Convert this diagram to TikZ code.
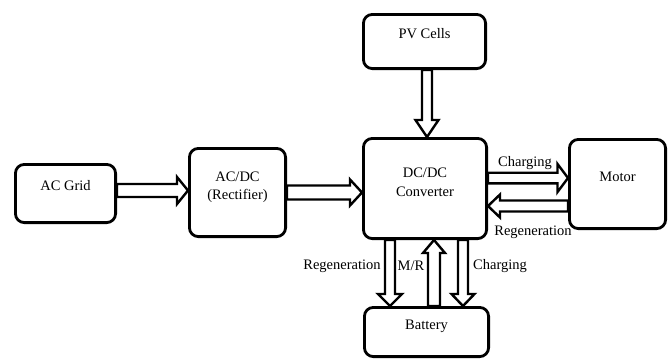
\documentclass[tikz,border=0pt]{standalone}
\usepackage{fontspec}
\setmainfont{Liberation Serif}
\usetikzlibrary{calc}
\tikzset{
  box/.style={draw, line width=2.8pt, rounded corners=9pt, inner sep=0pt},
  txt/.style={font=\fontsize{14.5}{18.5}\selectfont, align=center, inner sep=1pt},
  blkarrow/.style={draw, fill=white, line width=2.4pt, line join=miter},
}
\newcommand{\blk}[5]{%
  \coordinate (bh) at ($(#2)!#5!(#1)$);
  \draw[blkarrow] ($(#1)!#3!90:(#2)$) -- ($(bh)!#3!90:(#2)$) -- ($(bh)!#4!90:(#2)$) -- (#2)
    -- ($(bh)!#4!-90:(#2)$) -- ($(bh)!#3!-90:(#2)$) -- ($(#1)!#3!-90:(#2)$) -- cycle;
}
\begin{document}
\begin{tikzpicture}[x=1pt,y=-1pt]
\fill[white] (0,0) rectangle (672,360);
\useasboundingbox (0,0) rectangle (672,360);

\node[box, minimum width=100.2pt, minimum height=58.2pt,
  label={[txt,name=acgridt,yshift=8pt]center:AC Grid}] (acgrid) at (65.5,193.5) {};
\node[box, minimum width=96.2pt, minimum height=88.2pt,
  label={[txt,name=acdct,yshift=5.5pt]center:AC/DC\\(Rectifier)}] (acdc) at (237.5,192.5) {};
\node[box, minimum width=123.2pt, minimum height=100.2pt,
  label={[txt,name=dcdct,yshift=6pt]center:DC/DC\\Converter}] (dcdc) at (425,188.5) {};
\node[box, minimum width=122.2pt, minimum height=54.2pt,
  label={[txt,name=pvt,yshift=7.5pt]center:PV Cells}] (pv) at (424.5,41.5) {};
\node[box, minimum width=96.2pt, minimum height=89.2pt,
  label={[txt,name=motort,yshift=7pt]center:Motor}] (motor) at (617.5,184) {};
\node[box, minimum width=124.2pt, minimum height=49.2pt,
  label={[txt,name=batteryt,yshift=6pt]center:Battery}] (battery) at (426.5,332) {};

% arrow end points
\coordinate (a1s) at ($(acgrid.east)+(0,-3)$);
\coordinate (a1e) at (acdc.west |- a1s);
\coordinate (a2s) at (acdc.east);
\coordinate (a2e) at (dcdc.west |- a2s);
\coordinate (a3s) at ($(pv.south)+(2.5,0)$);
\coordinate (a3e) at (a3s |- dcdc.north);
\coordinate (a4s) at ($(dcdc.east)+(0,-10.5)$);
\coordinate (a4e) at (motor.west |- a4s);
\coordinate (a5s) at ($(motor.west)+(0,22)$);
\coordinate (a5e) at (dcdc.east |- a5s);
\coordinate (a6s) at ($(dcdc.south)+(-35,0)$);
\coordinate (a6e) at (a6s |- battery.north);
\coordinate (a7s) at ($(battery.north)+(7.5,0)$);
\coordinate (a7e) at (a7s |- dcdc.south);
\coordinate (a8s) at ($(dcdc.south)+(38,0)$);
\coordinate (a8e) at (a8s |- battery.north);

\blk{a1s}{a1e}{6.5pt}{13.5pt}{11pt}
\blk{a2s}{a2e}{7pt}{13pt}{12pt}
\blk{a3s}{a3e}{5pt}{11.5pt}{17pt}
\blk{a4s}{a4e}{5.3pt}{14pt}{10.5pt}
\blk{a5s}{a5e}{5.5pt}{11.5pt}{12pt}
\blk{a6s}{a6e}{5pt}{12pt}{12pt}
\blk{a7s}{a7e}{6pt}{11pt}{13pt}
\blk{a8s}{a8e}{5pt}{11.5pt}{12pt}

\node[txt] (lchg) at (525,163) {Charging};
\node[txt] (lreg) at (533,232) {Regeneration};
\node[txt] (lbreg) at (342,266) {Regeneration};
\node[txt] (lmr) at (411,266) {M/R};
\node[txt] (lbchg) at (500,266) {Charging};
\end{tikzpicture}
\end{document}
